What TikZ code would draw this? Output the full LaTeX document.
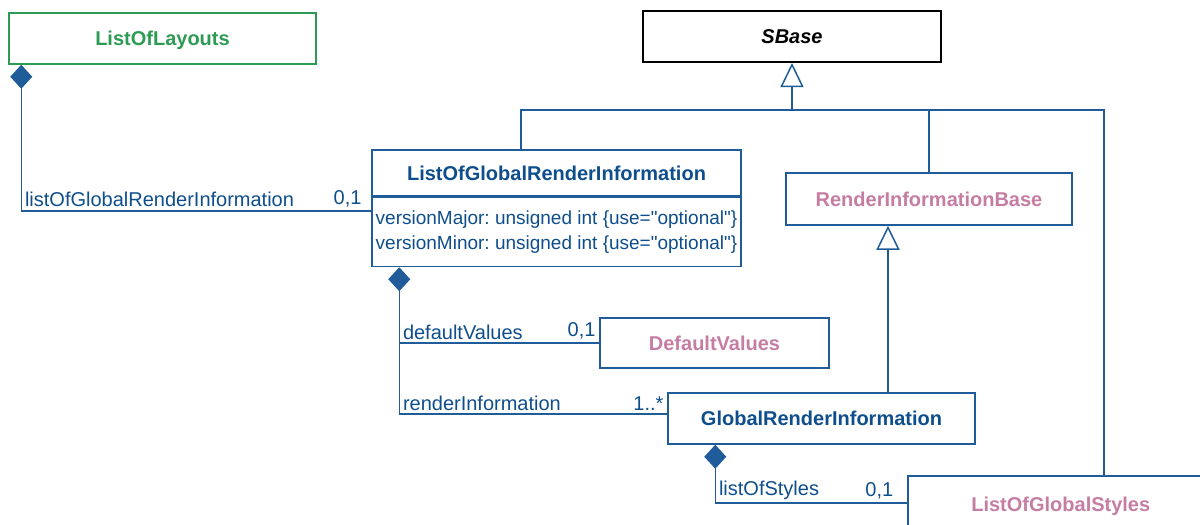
\documentclass[tikz,border=0pt]{standalone}
\usepackage{fontspec}
\setmainfont{Liberation Sans}
\usetikzlibrary{arrows.meta,positioning}
\definecolor{umlblue}{HTML}{1F5C99}
\definecolor{umltext}{HTML}{0F4E8C}
\definecolor{umlgreen}{HTML}{2E9B55}
\definecolor{umlpink}{HTML}{C57DA3}
\newcommand\straightqq{\XeTeXglyph\XeTeXcharglyph"22\relax}
\frenchspacing

\begin{document}
\begin{tikzpicture}[
    x=1pt, y=-1pt,
    font=\fontsize{20}{24}\selectfont,
    cls/.style={draw=umlblue, line width=1.5pt, fill=white, inner sep=0pt,
        text height=14pt, text depth=0pt,
        minimum height=51pt, text=umltext, font=\fontsize{20}{24}\selectfont\bfseries},
    attr/.style={draw=umlblue, line width=1.5pt, fill=white, inner xsep=3pt, inner ysep=0pt,
        align=left, text=umltext, font=\fontsize{19}{25}\selectfont},
    line/.style={umlblue, line width=1.5pt},
    gen/.style={line, -{Triangle[open, length=24pt, width=23pt]}},
    comp/.style={line, {Diamond[length=24pt, width=22pt]}-},
    lbl/.style={inner sep=3pt, text=umltext}
]
\clip (0,0) rectangle (1200,525);
% classes
\node[cls, draw=umlgreen, text=umlgreen, minimum width=307pt] (layouts) at (162.5,38.5) {ListOfLayouts};
\node[cls, draw=black, line width=2pt, text=black, minimum width=298pt,
    font=\fontsize{20}{24}\selectfont\bfseries\itshape] (sbase) at (792,36.5) {SBase};
\node[cls, minimum width=369pt, minimum height=46pt] (lgri) at (556.5,173) {ListOfGlobalRenderInformation};
\node[attr, minimum width=369pt, minimum height=69pt, below=0pt of lgri] (lgriattr)
    {versionMajor: unsigned int \{use=\straightqq optional\straightqq\}\\
     versionMinor: unsigned int \{use=\straightqq optional\straightqq\}};
\node[cls, text=umlpink, minimum width=286pt, minimum height=52pt] (rib) at (929,199) {RenderInformationBase};
\node[cls, text=umlpink, minimum width=229pt, minimum height=50pt] (dv) at (714.5,343) {DefaultValues};
\node[cls, minimum width=307pt] (gri) at (821.5,418.5) {GlobalRenderInformation};
\node[cls, text=umlpink, minimum width=306pt, minimum height=58pt, anchor=north west] (lgs) at (907,475) {ListOfGlobalStyles};

% inheritance
\coordinate (hub) at (792,110);
\draw[gen] (hub) -- (sbase.south);
\draw[line] ([xshift=-35.5pt]lgri.north) |- (hub);
\draw[line] (rib.north) |- (hub);
\draw[line] ([xshift=197pt]lgs.north west) |- (hub);
\draw[gen] ([xshift=66.5pt]gri.north) -- ([xshift=-41pt]rib.south);

% composition
\draw[comp] ([xshift=13pt]layouts.south west) |- ([yshift=-14pt]lgriattr.north west)
    node[lbl, pos=0.5, above right] {listOfGlobalRenderInformation}
    node[lbl, pos=1, above left, xshift=-6pt] {0,1};
\coordinate (trunk) at ([xshift=28pt]lgriattr.south west);
\draw[comp] (trunk) |- ([yshift=4.5pt]gri.west)
    node[lbl, pos=0.5, above right] {renderInformation}
    node[lbl, pos=1, above left] {1..*};
\draw[line] (dv.west -| trunk) -- (dv.west)
    node[lbl, pos=0, above right] {defaultValues}
    node[lbl, pos=1, above left] {0,1};
\draw[comp] ([xshift=48pt]gri.south west) |- ([yshift=-28pt]lgs.north west)
    node[lbl, pos=0.5, above right] {listOfStyles}
    node[lbl, pos=1, above left, xshift=-10pt] {0,1};
\end{tikzpicture}
\end{document}
